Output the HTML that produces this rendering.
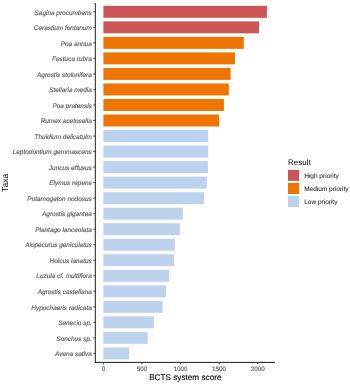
<!DOCTYPE html><html><head><meta charset="utf-8"><style>html,body{margin:0;padding:0;background:#fff;width:350px;height:384px;overflow:hidden}svg{display:block;will-change:transform}text{font-family:"Liberation Sans",sans-serif;text-rendering:geometricPrecision}</style></head><body>
<svg width="350" height="384" viewBox="0 0 350 384">
<defs><filter id="b" x="-5%" y="-20%" width="110%" height="140%"><feGaussianBlur stdDeviation="0.2"/></filter></defs>
<rect width="350" height="384" fill="#fff"/>
<rect x="103.40" y="5.84" width="163.50" height="11.96" fill="#CD5555"/>
<rect x="103.40" y="21.37" width="155.60" height="11.96" fill="#CD5555"/>
<rect x="103.40" y="36.89" width="140.40" height="11.96" fill="#EE7600"/>
<rect x="103.40" y="52.42" width="131.60" height="11.96" fill="#EE7600"/>
<rect x="103.40" y="67.95" width="127.20" height="11.96" fill="#EE7600"/>
<rect x="103.40" y="83.47" width="125.40" height="11.96" fill="#EE7600"/>
<rect x="103.40" y="99.00" width="120.50" height="11.96" fill="#EE7600"/>
<rect x="103.40" y="114.53" width="115.80" height="11.96" fill="#EE7600"/>
<rect x="103.40" y="130.05" width="104.70" height="11.96" fill="#BCD2EE"/>
<rect x="103.40" y="145.58" width="104.70" height="11.96" fill="#BCD2EE"/>
<rect x="103.40" y="161.11" width="104.50" height="11.96" fill="#BCD2EE"/>
<rect x="103.40" y="176.64" width="103.40" height="11.96" fill="#BCD2EE"/>
<rect x="103.40" y="192.16" width="100.80" height="11.96" fill="#BCD2EE"/>
<rect x="103.40" y="207.69" width="79.40" height="11.96" fill="#BCD2EE"/>
<rect x="103.40" y="223.22" width="76.40" height="11.96" fill="#BCD2EE"/>
<rect x="103.40" y="238.74" width="71.40" height="11.96" fill="#BCD2EE"/>
<rect x="103.40" y="254.27" width="70.60" height="11.96" fill="#BCD2EE"/>
<rect x="103.40" y="269.80" width="65.80" height="11.96" fill="#BCD2EE"/>
<rect x="103.40" y="285.32" width="62.60" height="11.96" fill="#BCD2EE"/>
<rect x="103.40" y="300.85" width="59.10" height="11.96" fill="#BCD2EE"/>
<rect x="103.40" y="316.38" width="50.50" height="11.96" fill="#BCD2EE"/>
<rect x="103.40" y="331.91" width="44.30" height="11.96" fill="#BCD2EE"/>
<rect x="103.40" y="347.43" width="25.60" height="11.96" fill="#BCD2EE"/>
<line x1="93.30" y1="11.82" x2="95.30" y2="11.82" stroke="#333" stroke-width="0.9"/>
<line x1="93.30" y1="27.34" x2="95.30" y2="27.34" stroke="#333" stroke-width="0.9"/>
<line x1="93.30" y1="42.87" x2="95.30" y2="42.87" stroke="#333" stroke-width="0.9"/>
<line x1="93.30" y1="58.40" x2="95.30" y2="58.40" stroke="#333" stroke-width="0.9"/>
<line x1="93.30" y1="73.92" x2="95.30" y2="73.92" stroke="#333" stroke-width="0.9"/>
<line x1="93.30" y1="89.45" x2="95.30" y2="89.45" stroke="#333" stroke-width="0.9"/>
<line x1="93.30" y1="104.98" x2="95.30" y2="104.98" stroke="#333" stroke-width="0.9"/>
<line x1="93.30" y1="120.51" x2="95.30" y2="120.51" stroke="#333" stroke-width="0.9"/>
<line x1="93.30" y1="136.03" x2="95.30" y2="136.03" stroke="#333" stroke-width="0.9"/>
<line x1="93.30" y1="151.56" x2="95.30" y2="151.56" stroke="#333" stroke-width="0.9"/>
<line x1="93.30" y1="167.09" x2="95.30" y2="167.09" stroke="#333" stroke-width="0.9"/>
<line x1="93.30" y1="182.61" x2="95.30" y2="182.61" stroke="#333" stroke-width="0.9"/>
<line x1="93.30" y1="198.14" x2="95.30" y2="198.14" stroke="#333" stroke-width="0.9"/>
<line x1="93.30" y1="213.67" x2="95.30" y2="213.67" stroke="#333" stroke-width="0.9"/>
<line x1="93.30" y1="229.19" x2="95.30" y2="229.19" stroke="#333" stroke-width="0.9"/>
<line x1="93.30" y1="244.72" x2="95.30" y2="244.72" stroke="#333" stroke-width="0.9"/>
<line x1="93.30" y1="260.25" x2="95.30" y2="260.25" stroke="#333" stroke-width="0.9"/>
<line x1="93.30" y1="275.78" x2="95.30" y2="275.78" stroke="#333" stroke-width="0.9"/>
<line x1="93.30" y1="291.30" x2="95.30" y2="291.30" stroke="#333" stroke-width="0.9"/>
<line x1="93.30" y1="306.83" x2="95.30" y2="306.83" stroke="#333" stroke-width="0.9"/>
<line x1="93.30" y1="322.36" x2="95.30" y2="322.36" stroke="#333" stroke-width="0.9"/>
<line x1="93.30" y1="337.88" x2="95.30" y2="337.88" stroke="#333" stroke-width="0.9"/>
<line x1="93.30" y1="353.41" x2="95.30" y2="353.41" stroke="#333" stroke-width="0.9"/>
<line x1="95.30" y1="3.0" x2="95.30" y2="362.85" stroke="#000" stroke-width="0.9"/>
<line x1="94.85" y1="362.40" x2="275.00" y2="362.40" stroke="#000" stroke-width="0.9"/>
<line x1="103.40" y1="362.40" x2="103.40" y2="364.40" stroke="#333" stroke-width="0.9"/>
<line x1="141.97" y1="362.40" x2="141.97" y2="364.40" stroke="#333" stroke-width="0.9"/>
<line x1="180.55" y1="362.40" x2="180.55" y2="364.40" stroke="#333" stroke-width="0.9"/>
<line x1="219.12" y1="362.40" x2="219.12" y2="364.40" stroke="#333" stroke-width="0.9"/>
<line x1="257.70" y1="362.40" x2="257.70" y2="364.40" stroke="#333" stroke-width="0.9"/>
<rect x="288.0" y="169.80" width="11.1" height="11.1" fill="#CD5555"/>
<rect x="288.0" y="182.90" width="11.1" height="11.1" fill="#EE7600"/>
<rect x="288.0" y="196.00" width="11.1" height="11.1" fill="#BCD2EE"/>
<g filter="url(#b)">
<text x="91.80" y="14.52" font-size="6.45" font-style="italic" fill="#5A5A5A" stroke="#5A5A5A" stroke-width="0.15" text-anchor="end">Sagina procumbens</text>
<text x="91.80" y="30.04" font-size="6.45" font-style="italic" fill="#5A5A5A" stroke="#5A5A5A" stroke-width="0.15" text-anchor="end">Cerastium fontanum</text>
<text x="91.80" y="45.57" font-size="6.45" font-style="italic" fill="#5A5A5A" stroke="#5A5A5A" stroke-width="0.15" text-anchor="end">Poa annua</text>
<text x="91.80" y="61.10" font-size="6.45" font-style="italic" fill="#5A5A5A" stroke="#5A5A5A" stroke-width="0.15" text-anchor="end">Festuca rubra</text>
<text x="91.80" y="76.62" font-size="6.45" font-style="italic" fill="#5A5A5A" stroke="#5A5A5A" stroke-width="0.15" text-anchor="end">Agrostis stolonifera</text>
<text x="91.80" y="92.15" font-size="6.45" font-style="italic" fill="#5A5A5A" stroke="#5A5A5A" stroke-width="0.15" text-anchor="end">Stellaria media</text>
<text x="91.80" y="107.68" font-size="6.45" font-style="italic" fill="#5A5A5A" stroke="#5A5A5A" stroke-width="0.15" text-anchor="end">Poa pratensis</text>
<text x="91.80" y="123.21" font-size="6.45" font-style="italic" fill="#5A5A5A" stroke="#5A5A5A" stroke-width="0.15" text-anchor="end">Rumex acetosella</text>
<text x="91.80" y="138.73" font-size="6.45" font-style="italic" fill="#5A5A5A" stroke="#5A5A5A" stroke-width="0.15" text-anchor="end">Thuidium delicatulm</text>
<text x="91.80" y="154.26" font-size="6.45" font-style="italic" fill="#5A5A5A" stroke="#5A5A5A" stroke-width="0.15" text-anchor="end">Leptodontium gemmascens</text>
<text x="91.80" y="169.79" font-size="6.45" font-style="italic" fill="#5A5A5A" stroke="#5A5A5A" stroke-width="0.15" text-anchor="end">Juncus effusus</text>
<text x="91.80" y="185.31" font-size="6.45" font-style="italic" fill="#5A5A5A" stroke="#5A5A5A" stroke-width="0.15" text-anchor="end">Elymus repens</text>
<text x="91.80" y="200.84" font-size="6.45" font-style="italic" fill="#5A5A5A" stroke="#5A5A5A" stroke-width="0.15" text-anchor="end">Potamogeton nodosus</text>
<text x="91.80" y="216.37" font-size="6.45" font-style="italic" fill="#5A5A5A" stroke="#5A5A5A" stroke-width="0.15" text-anchor="end">Agrostis gigantea</text>
<text x="91.80" y="231.89" font-size="6.45" font-style="italic" fill="#5A5A5A" stroke="#5A5A5A" stroke-width="0.15" text-anchor="end">Plantago lanceolata</text>
<text x="91.80" y="247.42" font-size="6.45" font-style="italic" fill="#5A5A5A" stroke="#5A5A5A" stroke-width="0.15" text-anchor="end">Alopecurus geniculatus</text>
<text x="91.80" y="262.95" font-size="6.45" font-style="italic" fill="#5A5A5A" stroke="#5A5A5A" stroke-width="0.15" text-anchor="end">Holcus lanatus</text>
<text x="91.80" y="278.48" font-size="6.45" font-style="italic" fill="#5A5A5A" stroke="#5A5A5A" stroke-width="0.15" text-anchor="end">Luzula cf. multiflora</text>
<text x="91.80" y="294.00" font-size="6.45" font-style="italic" fill="#5A5A5A" stroke="#5A5A5A" stroke-width="0.15" text-anchor="end">Agrostis castellana</text>
<text x="91.80" y="309.53" font-size="6.45" font-style="italic" fill="#5A5A5A" stroke="#5A5A5A" stroke-width="0.15" text-anchor="end">Hypochaeris radicata</text>
<text x="91.80" y="325.06" font-size="6.45" font-style="italic" fill="#5A5A5A" stroke="#5A5A5A" stroke-width="0.15" text-anchor="end">Senecio sp.</text>
<text x="91.80" y="340.58" font-size="6.45" font-style="italic" fill="#5A5A5A" stroke="#5A5A5A" stroke-width="0.15" text-anchor="end">Sonchus sp.</text>
<text x="91.80" y="356.11" font-size="6.45" font-style="italic" fill="#5A5A5A" stroke="#5A5A5A" stroke-width="0.15" text-anchor="end">Avena sativa</text>
<text x="103.40" y="371.00" font-size="6.3" fill="#5A5A5A" stroke="#5A5A5A" stroke-width="0.15" text-anchor="middle">0</text>
<text x="141.97" y="371.00" font-size="6.3" fill="#5A5A5A" stroke="#5A5A5A" stroke-width="0.15" text-anchor="middle">500</text>
<text x="180.55" y="371.00" font-size="6.3" fill="#5A5A5A" stroke="#5A5A5A" stroke-width="0.15" text-anchor="middle">1000</text>
<text x="219.12" y="371.00" font-size="6.3" fill="#5A5A5A" stroke="#5A5A5A" stroke-width="0.15" text-anchor="middle">1500</text>
<text x="257.70" y="371.00" font-size="6.3" fill="#5A5A5A" stroke="#5A5A5A" stroke-width="0.15" text-anchor="middle">2000</text>
<text x="185.30" y="380.30" font-size="8.2" fill="#000" stroke="#000" stroke-width="0.12" text-anchor="middle">BCTS system score</text>
<text transform="translate(7.75,182.80) rotate(-90)" font-size="8.6" fill="#000" stroke="#000" stroke-width="0.0" text-anchor="middle">Taxa</text>
<text x="288" y="164.8" font-size="8.0" fill="#000" stroke="#000" stroke-width="0.0">Result</text>
<text x="304.2" y="177.70" font-size="6.5" fill="#000" stroke="#000" stroke-width="0.0">High priority</text>
<text x="304.2" y="190.80" font-size="6.5" fill="#000" stroke="#000" stroke-width="0.0">Medium priority</text>
<text x="304.2" y="203.90" font-size="6.5" fill="#000" stroke="#000" stroke-width="0.0">Low priority</text>
</g>
</svg></body></html>
